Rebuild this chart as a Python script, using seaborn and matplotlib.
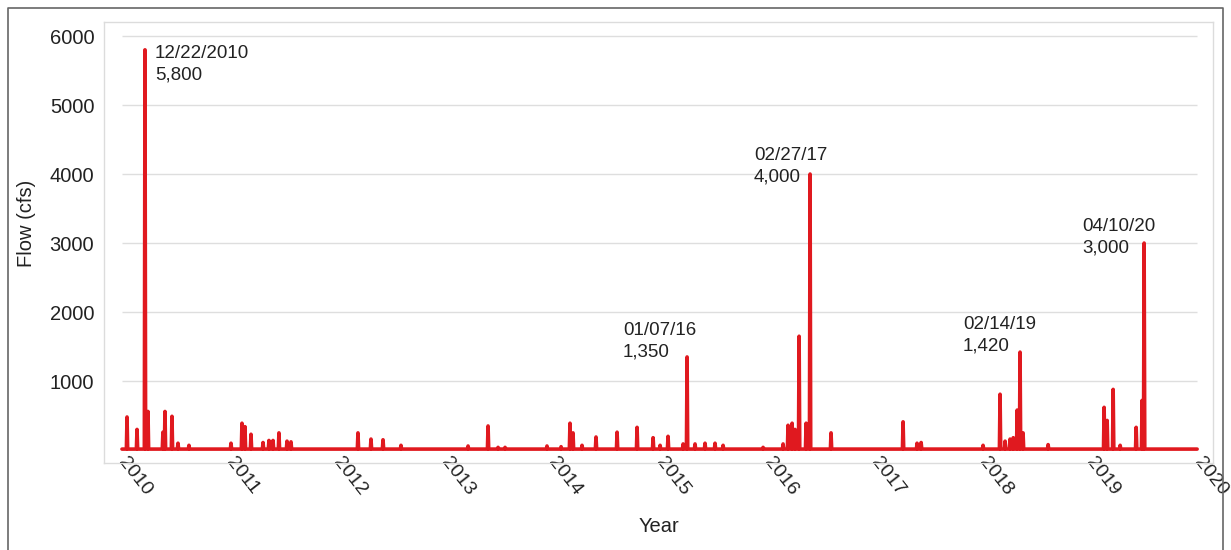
import matplotlib
matplotlib.use("Agg")
import matplotlib.pyplot as plt
from matplotlib.lines import Line2D
import numpy as np
import pandas as pd
import seaborn as sns

# flow events (decimal year, peak flow in cfs)
peak_year = [2010.047, 2010.140, 2010.214, 2010.242, 2010.381, 2010.400, 2010.465, 2010.521,
             2010.623, 2011.014, 2011.116, 2011.144, 2011.200, 2011.312, 2011.367, 2011.405,
             2011.460, 2011.535, 2011.572, 2012.195, 2012.316, 2012.428, 2012.595, 2013.219,
             2013.405, 2013.498, 2013.563, 2013.953, 2014.084, 2014.167, 2014.195, 2014.279,
             2014.409, 2014.605, 2014.791, 2014.940, 2015.005, 2015.079, 2015.219, 2015.256,
             2015.330, 2015.423, 2015.516, 2015.591, 2015.963, 2016.149, 2016.195, 2016.233,
             2016.260, 2016.298, 2016.363, 2016.400, 2016.595, 2017.265, 2017.395, 2017.433,
             2018.009, 2018.167, 2018.214, 2018.260, 2018.290, 2018.326, 2018.353, 2018.381,
             2018.614, 2019.135, 2019.163, 2019.219, 2019.284, 2019.433, 2019.488, 2019.507]
peak_flow = [480, 300, 5800, 560, 260, 560, 490, 100,
             70, 100, 390, 340, 230, 110, 140, 140,
             250, 130, 120, 250, 160, 150, 70, 60,
             350, 40, 40, 60, 50, 390, 250, 70,
             190, 260, 330, 180, 70, 200, 90, 1350,
             90, 100, 100, 70, 40, 90, 360, 390,
             300, 1650, 390, 4000, 250, 410, 100, 110,
             70, 810, 130, 160, 180, 580, 1420, 250,
             80, 620, 430, 880, 70, 330, 720, 3000]
base_flow = 15

# annotations: (x, y top, text)
note_x = [2010.307, 2014.66, 2015.879, 2017.823, 2018.93]
note_y = [5870, 1850, 4390, 1950, 3360]
note_text = ["12/22/2010\n5,800", "01/07/16\n1,350", "02/27/17\n4,000",
             "02/14/19\n1,420", "04/10/20\n3,000"]

years = list(range(2010, 2021))
yticks = [1000, 2000, 3000, 4000, 5000, 6000]

# build the hydrograph as narrow spikes on a low base flow
xs = [2010.0]
ys = [base_flow]
hw = 0.006
for px, py in zip(peak_year, peak_flow):
    xs += [px - hw, px, px + hw]
    ys += [base_flow, py, base_flow]
xs.append(2020.0)
ys.append(base_flow)
df = pd.DataFrame({"Year": xs, "Flow": ys})

sns.set_style("white")
plt.rcParams["font.family"] = ["Liberation Sans", "DejaVu Sans"]

fig = plt.figure(figsize=(12.31, 5.5), dpi=100)
ax = fig.add_axes([0.0845, 0.158, 0.901, 0.802])

ax.hlines(yticks, 2010, 2020, color="#dedede", lw=1, zorder=1)
sns.lineplot(data=df, x="Year", y="Flow", color="#e0191f", lw=2.6, sort=False,
             estimator=None, ax=ax, zorder=3)

for x, y, t in zip(note_x, note_y, note_text):
    ax.text(x, y, t, ha="left", va="top", fontsize=13.5, color="#222222",
            linespacing=1.35, zorder=4)

ax.set_xlim(2009.833, 2020.149)
ax.set_ylim(-188, 6203)
ax.set_yticks(yticks)
ax.set_yticklabels([str(v) for v in yticks], fontsize=14.5, color="#222222")
ax.set_xticks(years)
ax.set_xticklabels([str(v) for v in years], fontsize=14, color="#222222",
                   rotation=-52, ha="left", va="center", rotation_mode="anchor")
ax.tick_params(axis="both", length=0)
ax.tick_params(axis="y", pad=7)
ax.tick_params(axis="x", pad=-3)

ax.set_xlabel("Year", fontsize=14.5, color="#222222")
ax.set_ylabel("Flow (cfs)", fontsize=14.5, color="#222222")
ax.xaxis.set_label_coords(0.5, -0.122)
ax.yaxis.set_label_coords(-0.061, 0.544)

for s in ax.spines.values():
    s.set_color("#dcdcdc")
    s.set_linewidth(1)

# outer frame of the figure
frame_x = [0.0065, 0.0065, 0.9935, 0.9935]
frame_y = [0.0, 0.9855, 0.9855, 0.0]
fig.add_artist(Line2D(frame_x, frame_y, transform=fig.transFigure, color="#666666", lw=1.2))

fig.savefig("out.png", dpi=100)
